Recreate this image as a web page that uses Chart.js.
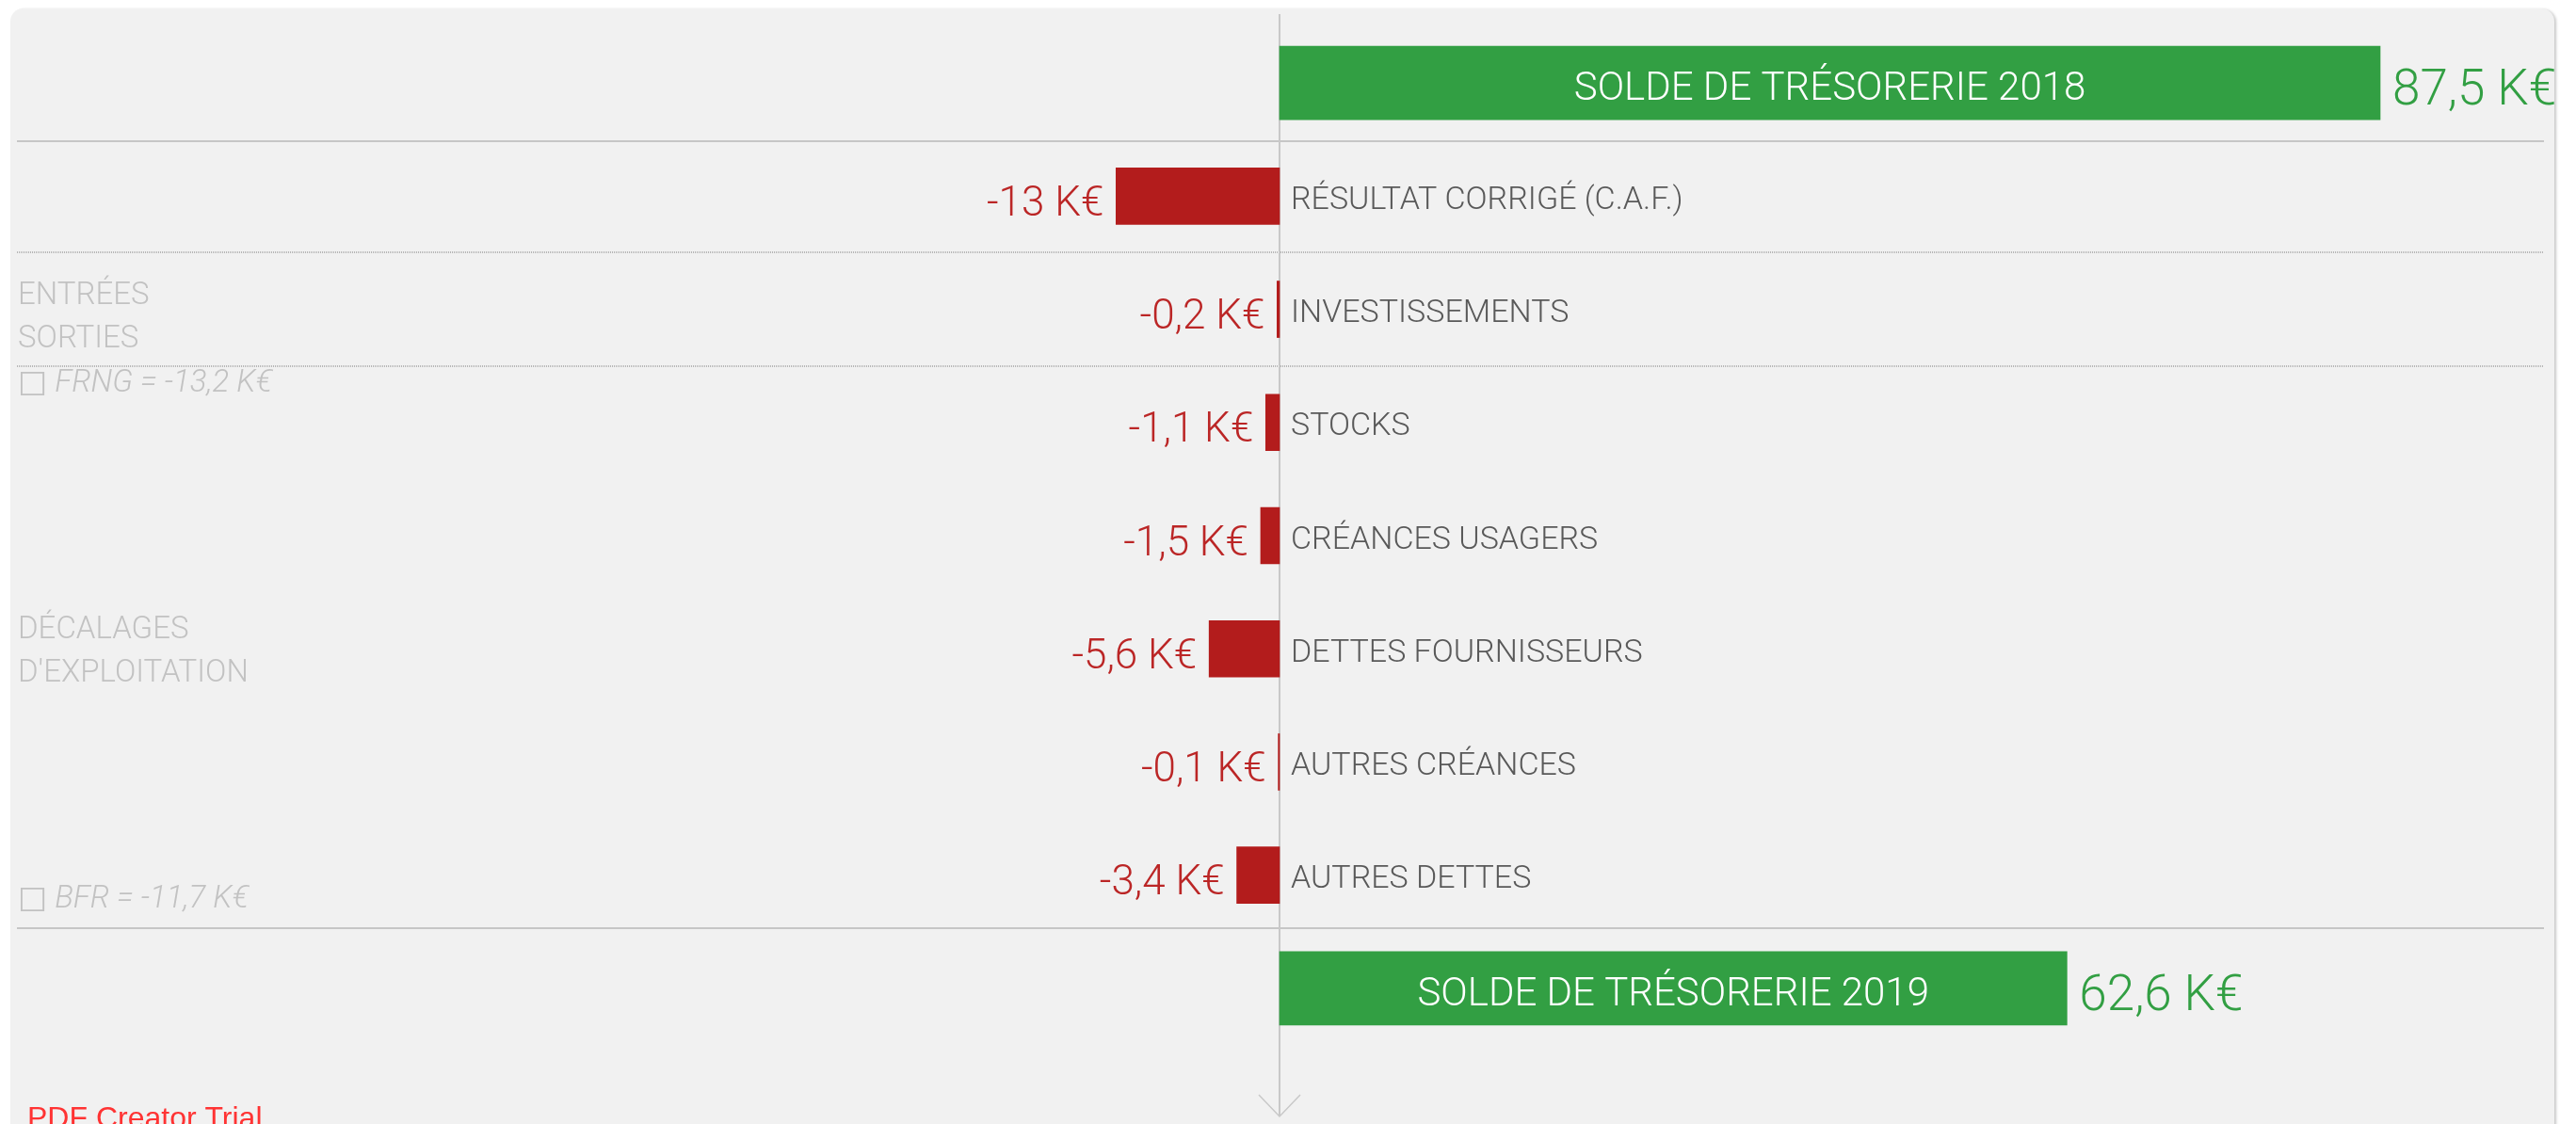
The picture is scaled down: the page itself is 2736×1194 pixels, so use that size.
<!DOCTYPE html>
<html lang="fr">
<head>
<meta charset="utf-8">
<script src="https://cdn.jsdelivr.net/npm/chart.js@4"></script>
<style>
  html, body { margin: 0; padding: 0; background: #ffffff; width: 2736px; height: 1194px; overflow: hidden; }
  #card { position: absolute; left: 11px; top: 9px; width: 2702px; height: 1260px; background: #f1f1f1;
          border-radius: 14px; box-shadow: 2px 1px 3px rgba(0,0,0,0.22); }
  #c { position: absolute; left: 0; top: 0; }
</style>
</head>
<body>
<div id="card"></div>
<canvas id="c" width="2736" height="1194" style="width:2736px;height:1194px"></canvas>
<script>
// ---------- DATA ----------
const categories = [
  'SOLDE DE TRÉSORERIE 2018',
  'RÉSULTAT CORRIGÉ (C.A.F.)',
  'INVESTISSEMENTS',
  'STOCKS',
  'CRÉANCES USAGERS',
  'DETTES FOURNISSEURS',
  'AUTRES CRÉANCES',
  'AUTRES DETTES',
  'SOLDE DE TRÉSORERIE 2019'
];
const soldeValues     = [87.5, null, null, null, null, null, null, null, 62.6];
const variationValues = [null, -13, -0.2, -1.1, -1.5, -5.6, -0.1, -3.4, null];
const unit = 'K€';
const sideNotes = ['ENTRÉES', 'SORTIES', 'FRNG', 'DÉCALAGES', "D'EXPLOITATION", 'BFR'];
const frngRows = [1, 2];
const bfrRows  = [3, 4, 5, 6, 7];
const watermark = 'PDF Creator Trial';

// ---------- HELPERS / LAYOUT ----------
const fmt = v => String(Math.round(v * 10) / 10).replace('.', ',') + ' ' + unit;
const sumRows = rows => rows.reduce((s, i) => s + variationValues[i], 0);
const noteTexts = [
  sideNotes[0], sideNotes[1], '□ ' + sideNotes[2] + ' = ' + fmt(sumRows(frngRows)),
  sideNotes[3], sideNotes[4], '□ ' + sideNotes[5] + ' = ' + fmt(sumRows(bfrRows))
];
const FONT = "Roboto, 'Open Sans', 'DejaVu Sans', sans-serif";
const GREEN = '#329f43', RED_BAR = '#b31c1c', RED_TEXT = '#bb2626';

const decoLayout = {
  separators: [
    { after: 0, dotted: false, shift: 2 },
    { after: 1, dotted: true,  shift: 0 },
    { after: 2, dotted: true,  shift: 0 },
    { after: 7, dotted: false, shift: -4 }
  ],
  notes: [
    { row: 2, dy: -6,  italic: false }, { row: 2, dy: 40, italic: false }, { row: 2, dy: 87, italic: true },
    { row: 5, dy: -11, italic: false }, { row: 5, dy: 35, italic: false }, { row: 7, dy: 34, italic: true }
  ]
};

const deco = {
  id: 'deco',
  beforeDatasetsDraw(chart) {
    const { ctx, chartArea: a, scales: { x, y } } = chart;
    ctx.save();
    // row separators
    decoLayout.separators.forEach(s => {
      const yy = Math.round((y.getPixelForValue(s.after) + y.getPixelForValue(s.after + 1)) / 2 + s.shift);
      ctx.beginPath();
      if (s.dotted) {
        ctx.setLineDash([1, 1]);
        ctx.lineWidth = 2;
        ctx.strokeStyle = '#b6b6b6';
      } else {
        ctx.setLineDash([]);
        ctx.lineWidth = 2;
        ctx.strokeStyle = '#c6c6c6';
      }
      ctx.moveTo(a.left - 5, yy);
      ctx.lineTo(a.right + 7, yy);
      ctx.stroke();
    });
    ctx.setLineDash([]);
    // zero axis with arrow
    const x0 = Math.round(x.getPixelForValue(0));
    ctx.strokeStyle = '#c8c8c8';
    ctx.lineWidth = 2;
    ctx.beginPath();
    ctx.moveTo(x0, a.top - 13);
    ctx.lineTo(x0, a.bottom + 76);
    ctx.stroke();
    ctx.lineWidth = 1.5;
    ctx.beginPath();
    ctx.moveTo(x0 - 22, a.bottom + 53);
    ctx.lineTo(x0, a.bottom + 76);
    ctx.lineTo(x0 + 22, a.bottom + 53);
    ctx.stroke();
    ctx.restore();
  },
  afterDatasetsDraw(chart) {
    const { ctx, chartArea: a, scales: { y } } = chart;
    ctx.save();
    ctx.textBaseline = 'alphabetic';
    // solde bars (green)
    chart.getDatasetMeta(0).data.forEach((el, i) => {
      const v = soldeValues[i];
      if (v === null || v === undefined) return;
      ctx.fillStyle = '#ffffff';
      ctx.font = '300 42px ' + FONT;
      ctx.textAlign = 'center';
      ctx.fillText(categories[i], (el.x + el.base) / 2, el.y + 18);
      ctx.fillStyle = GREEN;
      ctx.font = '300 53px ' + FONT;
      ctx.textAlign = 'left';
      ctx.fillText(fmt(v), el.x + 13, el.y + 23);
    });
    // variation bars (red)
    chart.getDatasetMeta(1).data.forEach((el, i) => {
      const v = variationValues[i];
      if (v === null || v === undefined) return;
      ctx.fillStyle = RED_TEXT;
      ctx.font = '300 44px ' + FONT;
      ctx.textAlign = 'right';
      ctx.fillText(fmt(v), Math.min(el.x, el.base) - 13, el.y + 20.5);
      ctx.fillStyle = '#595959';
      ctx.font = '300 34px ' + FONT;
      ctx.textAlign = 'left';
      ctx.fillText(categories[i], el.base + 12, el.y + 13.5);
    });
    // side notes
    ctx.fillStyle = '#c2c2c2';
    ctx.textAlign = 'left';
    decoLayout.notes.forEach((n, k) => {
      ctx.font = (n.italic ? 'italic ' : '') + '300 33px ' + FONT;
      ctx.fillText(noteTexts[k], a.left - 4, y.getPixelForValue(n.row) + n.dy);
    });
    // watermark
    ctx.fillStyle = '#ff3333';
    ctx.font = "32px 'Liberation Sans', Arial, sans-serif";
    ctx.fillText(watermark, 29, 1198);
    ctx.restore();
  }
};

new Chart(document.getElementById('c'), {
  type: 'bar',
  data: {
    labels: categories,
    datasets: [
      { label: 'Solde', data: soldeValues, backgroundColor: GREEN, barThickness: 78, grouped: false, borderWidth: 0 },
      { label: 'Variation', data: variationValues, backgroundColor: RED_BAR, barThickness: 60, grouped: false, borderWidth: 0 }
    ]
  },
  options: {
    indexAxis: 'y',
    responsive: false,
    devicePixelRatio: 1,
    animation: false,
    layout: { padding: { top: 28, bottom: 84, left: 23, right: 41 } },
    scales: {
      x: { type: 'linear', min: -100, max: 100, display: false },
      y: { type: 'category', display: false, offset: true }
    },
    plugins: {
      legend: { display: false },
      tooltip: { enabled: false }
    }
  },
  plugins: [deco]
});
</script>
</body>
</html>
